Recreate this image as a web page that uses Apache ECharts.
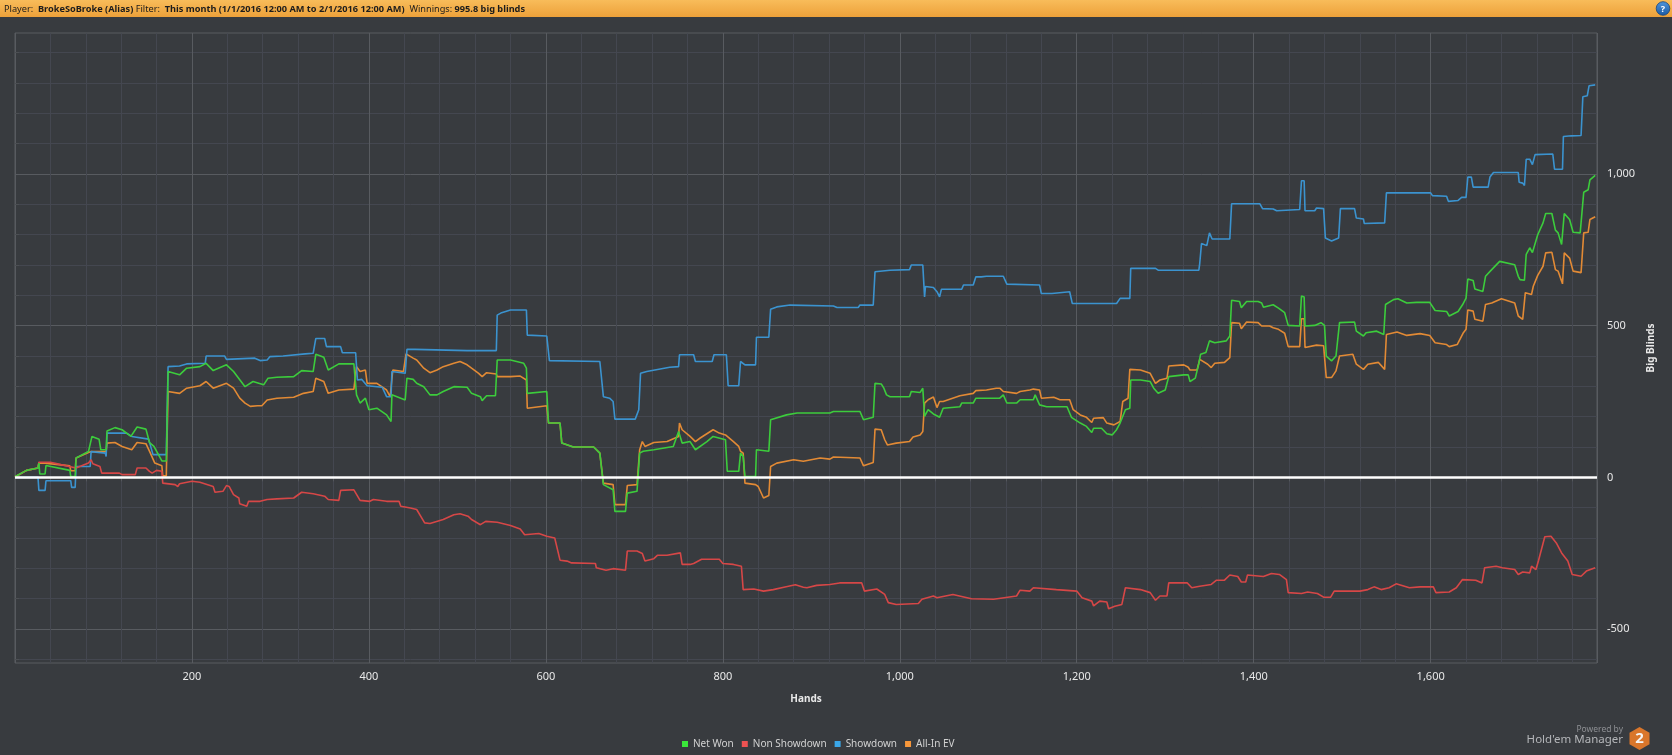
<!DOCTYPE html>
<html><head><meta charset="utf-8">
<script src="https://cdn.jsdelivr.net/npm/echarts@6/dist/echarts.min.js"></script>
<style>html,body{margin:0;padding:0;background:#383b3f;}#c{width:1672px;height:755px;}</style>
</head><body><div id="c"></div>
<script>
// ---- data (hand number, cumulative big blinds) ----
const netWonHands = [
0,13,26,27,28,34,35,62,63,68, 69,83,87,95,97,103,104,113,121,131, 138,148,152,157,166,171,173,186,194,209,
216,224,239,241,247,260,269,281,286,296, 315,324,337,340,349,354,366,383,386,390, 396,400,409,420,425,426,441,443,450,454,
462,469,477,484,496,511,516,526,528,533, 543,545,560,575,578,579,601,603,616,618, 631,654,661,665,676,678,690,692,703,706,
710,722,744,750,754,763,769,782,789,803, 805,818,820,823,825,837,838,852,854,872, 884,921,925,955,959,970,972,979,982,985,
989,1011,1013,1023,1026,1028,1032,1038,1045,1049, 1068,1070,1083,1086,1113,1117,1121,1132,1136,1151, 1153,1158,1166,1189,1194,1204,1211,1217,1219,1228,
1234,1240,1245,1249,1255,1260,1261,1272,1283,1287, 1292,1300,1304,1321,1326,1328,1334,1338,1340,1346, 1350,1356,1369,1373,1375,1384,1386,1392,1405,1409,
1411,1422,1428,1435,1439,1452,1454,1457,1458,1469, 1476,1480,1482,1488,1493,1497,1514,1516,1524,1527, 1539,1547,1549,1558,1563,1573,1584,1599,1605,1618,
1621,1631,1636,1640,1642,1648,1650,1659,1662,1669, 1678,1695,1699,1701,1706,1708,1712,1715,1721,1727, 1730,1737,1741,1744,1748,1749,1751,1757,1761,1769,
1773,1778,1780,1786];
const netWonBB = [
2,23,31,47,11,11,39,23,3,3, 64,85,135,126,91,91,153,164,157,135, 166,159,115,102,54,54,349,338,360,365,
376,352,371,376,349,299,316,305,327,330, 332,352,349,406,396,354,374,374,272,245, 261,223,228,206,184,272,255,327,323,310,
299,272,272,283,299,297,277,266,253,269, 269,387,387,376,360,277,283,179,179,113, 100,100,80,-24,-41,-112,-112,-52,-46,80,
86,91,102,151,113,118,91,118,135,124, 20,20,80,69,3,3,91,86,190,206, 212,212,217,217,190,198,310,308,294,272,
266,266,283,280,294,201,223,209,198,228, 233,245,245,261,261,272,245,245,256,256, 272,239,233,233,198,179,168,148,162,162,
144,140,157,179,223,228,321,321,316,294, 277,288,332,338,338,316,327,376,406,412, 450,444,450,466,584,580,559,580,580,575,
561,569,558,543,501,499,598,595,499,501, 510,501,400,384,400,510,512,482,466,477, 482,471,570,586,589,575,577,577,550,547,
532,547,569,591,654,649,621,613,663,685, 712,701,663,652,650,735,757,741,800,839, 870,870,815,806,768,764,870,850,808,806,
940,948,981,995.8];

const allInHands = [
0,13,26,27,34,35,62,63,68,69, 83,86,103,104,113,121,132,138,148,153, 158,166,167,171,173,186,194,209,216,224,
239,241,247,254,260,266,274,279,285,296, 315,326,337,340,349,354,366,383,386,390, 396,398,409,420,424,427,439,442,450,454,
462,469,477,484,496,503,511,516,524,528, 533,544,545,560,571,578,579,601,603,616, 618,631,654,661,665,676,678,690,692,703,
706,709,712,722,737,750,751,754,763,769, 774,789,796,803,812,818,820,823,825,837, 840,846,852,854,861,880,891,910,921,925,
955,959,970,972,979,983,986,996,1011,1015, 1023,1026,1028,1032,1038,1042,1045,1049,1068,1070, 1083,1086,1098,1109,1113,1117,1132,1136,1147,1151,
1158,1160,1174,1181,1192,1196,1204,1211,1217,1219, 1230,1234,1242,1249,1252,1258,1260,1272,1283,1289, 1294,1302,1304,1321,1326,1328,1336,1339,1348,1352,
1356,1367,1373,1375,1384,1386,1392,1405,1409,1418, 1422,1428,1435,1439,1452,1454,1457,1458,1471,1479, 1482,1488,1493,1497,1512,1516,1524,1529,1541,1548,
1550,1562,1573,1588,1599,1605,1618,1621,1630,1637, 1640,1642,1648,1650,1659,1662,1669,1680,1695,1699, 1704,1707,1714,1716,1721,1727,1730,1737,1741,1744,
1748,1749,1751,1757,1761,1770,1773,1778,1780,1786];
const allInBB = [
2,23,31,47,47,45,38,22,22,64, 82,85,85,113,115,102,91,115,111,80, 47,38,5,5,283,277,294,302,316,294,
310,316,294,261,245,234,236,236,255,261, 264,277,283,327,316,277,288,291,365,349, 354,310,310,288,266,354,349,407,393,387,
360,345,354,365,376,382,371,360,343,332, 345,341,332,332,334,321,228,236,179,179, 113,100,100,80,-19,-24,-90,-90,-27,-24,
91,118,102,115,118,135,179,157,135,118, 129,157,146,140,118,102,86,80,-19,-24, -30,-68,-60,36,47,58,53,64,60,67,
64,38,49,159,157,124,107,113,118,133, 140,151,245,256,265,230,250,250,269,272, 277,286,288,294,294,283,277,283,288,291,
288,261,264,256,256,223,206,198,181,195, 197,179,173,184,250,261,356,354,343,310, 321,327,367,371,363,354,354,389,373,362,
376,379,395,510,508,490,512,510,499,499, 493,488,475,431,431,523,523,428,436,434, 329,329,351,400,406,373,356,373,379,356,
471,479,468,474,468,444,438,431,438,477, 488,552,548,521,515,570,575,589,575,532, 521,609,603,630,666,696,740,742,685,680,
647,638,740,723,680,675,806,808,850,859];

const showdownHands = [
0,26,27,34,35,63,64,68,69,85, 86,102,103,104,126,132,151,156,171,173, 186,194,215,216,237,239,271,277,285,288,
303,328,337,340,350,352,368,370,385,387, 392,398,415,420,425,426,441,443,452,511, 544,545,550,560,578,579,601,604,661,665,
672,676,678,701,705,707,714,740,750,751, 767,769,788,790,804,806,818,820,825,837, 838,852,854,861,876,925,929,953,955,970,
972,989,1011,1013,1026,1028,1029,1038,1042,1045, 1047,1070,1072,1083,1086,1092,1094,1098,1117,1121, 1158,1160,1172,1174,1192,1195,1245,1249,1260,1261,
1289,1292,1338,1339,1341,1347,1350,1353,1373,1375, 1407,1410,1422,1426,1452,1454,1457,1458,1469,1471, 1479,1481,1488,1496,1498,1514,1516,1524,1525,1548,
1550,1600,1602,1618,1620,1631,1635,1640,1642,1646, 1648,1665,1667,1671,1699,1700,1704,1706,1708,1712, 1715,1718,1738,1740,1749,1750,1759,1770,1772,1777,
1779,1786];
const showdownBB = [
0,0,-43,-43,-11,-11,-33,-33,36,36, 85,80,69,146,146,135,126,75,75,365, 367,374,376,400,400,389,393,385,387,398,
400,407,409,458,458,431,431,411,411,321, 323,302,297,266,266,349,343,422,422,418, 418,535,543,552,552,469,466,385,382,266,
261,250,192,192,223,343,349,363,365,404, 404,382,382,404,404,302,302,382,371,371, 462,462,554,562,568,565,560,560,568,568,
678,683,685,700,700,595,629,626,612,595, 620,620,634,634,661,661,655,663,663,637, 634,606,606,612,612,573,573,590,590,689,
689,683,683,705,771,764,806,786,786,902, 902,886,885,879,883,978,978,879,879,888, 886,789,779,789,886,886,855,852,837,839,
938,938,929,927,910,913,923,923,990,990, 957,957,990,1005,1005,973,970,962,1049,1049, 1031,1064,1066,1016,1016,1124,1126,1127,1255,1258,
1291,1294];

const nonShowdownHands = [
0,13,26,27,40,52,69,83,86,88, 96,98,109,111,118,121,136,138,148,152, 155,160,166,167,181,184,186,200,209,224,
226,235,239,242,247,253,254,262,264,277, 285,296,315,324,337,350,354,366,368,383, 390,401,405,420,434,436,447,454,463,469,
484,496,503,512,516,526,532,545,560,571, 576,592,601,610,616,624,629,656,657,668, 676,690,692,703,709,712,722,726,737,752,
754,763,767,776,796,800,812,821,823,835, 846,857,869,882,891,895,906,921,932,957, 960,974,983,987,996,1021,1025,1038,1042,1060,
1081,1106,1132,1136,1147,1151,1177,1200,1206,1217, 1219,1226,1234,1236,1243,1251,1255,1272,1283,1289, 1294,1302,1304,1325,1330,1339,1352,1358,1367,1373,
1382,1386,1391,1393,1411,1420,1429,1437,1439,1454, 1461,1472,1479,1487,1491,1520,1529,1536,1544,1553, 1561,1576,1588,1603,1606,1621,1629,1636,1651,1658,
1661,1674,1681,1695,1699,1704,1712,1714,1719,1722, 1729,1736,1742,1748,1755,1760,1770,1776,1786];
const nonShowdownBB = [
0,23,31,50,50,42,31,47,58,45, 36,14,14,20,14,9,9,31,31,20, 14,23,20,-19,-24,-30,-21,-13,-16,-30,
-49,-46,-27,-30,-57,-68,-87,-95,-79,-79, -73,-71,-68,-49,-54,-62,-73,-76,-43,-41, -76,-79,-73,-79,-79,-95,-101,-106,-150,-152,
-139,-123,-120,-128,-139,-156,-145,-148,-159,-170, -189,-185,-194,-200,-273,-276,-282,-284,-298,-306, -301,-306,-243,-243,-251,-276,-268,-257,-257,-249,
-287,-287,-284,-270,-270,-284,-287,-293,-370,-368, -375,-370,-362,-354,-362,-364,-356,-353,-348,-348, -375,-368,-386,-413,-419,-416,-402,-391,-397,-386,
-400,-402,-391,-372,-375,-364,-370,-375,-397,-408, -424,-408,-411,-433,-425,-419,-364,-370,-380,-405, -391,-391,-348,-348,-364,-359,-353,-339,-339,-322,
-327,-345,-345,-322,-327,-317,-320,-337,-380,-383, -378,-383,-395,-395,-375,-375,-370,-361,-370,-364, -351,-364,-361,-361,-380,-378,-364,-337,-339,-348,
-298,-293,-298,-304,-320,-312,-315,-293,-304,-273, -196,-194,-216,-249,-276,-320,-326,-309,-298];

// axis ticks / labels
const handsMax = 1788;
const yMin = -612, yMax = 1465;
const yMinorTicks = [-600,-500,-400,-300,-200,-100,0,100,200,300,400,500,600,700,800,900,1000,1100,1200,1300,1400];
const yLabelTicks = [-500,0,500,1000];
const seriesNames = ['Net Won','Non Showdown','Showdown','All-In EV'];

const pairs = (h, v) => h.map((x, i) => [x, v[i]]);
const FONT = '"Noto Sans", "Open Sans", sans-serif';
const fmt = v => v.toLocaleString('en-US');

const chart = echarts.init(document.getElementById('c'), null, {renderer: 'canvas'});

function lineSeries(name, h, v, lineColor, iconColor, z, extra) {
  return Object.assign({
    name, type: 'line', data: pairs(h, v), xAxisIndex: 0, yAxisIndex: 0,
    showSymbol: false, symbol: 'none', z,
    lineStyle: {color: lineColor, width: 1.6},
    itemStyle: {color: iconColor},
    emphasis: {disabled: true}, animation: false
  }, extra || {});
}

const option = {
  backgroundColor: '#383b3f',
  animation: false,
  textStyle: {fontFamily: FONT},
  grid: {left: 15, top: 33, right: 75, bottom: 92, show: true, borderColor: '#595c60', borderWidth: 1, containLabel: false},
  legend: {
    data: seriesNames, top: 734, left: 677, icon: 'rect', itemWidth: 6, itemHeight: 6, itemGap: 8,
    textStyle: {color: '#d2d2d2', fontSize: 10, fontFamily: FONT}, selectedMode: false
  },
  xAxis: [
    {type: 'value', min: 0, max: handsMax, interval: 40, position: 'bottom',
     axisLine: {show: false}, axisTick: {show: true, length: 4, lineStyle: {color: '#55585c'}},
     axisLabel: {show: false}, splitLine: {show: true, lineStyle: {color: '#444750', width: 1}}},
    {type: 'value', min: 0, max: handsMax, interval: 200, position: 'bottom',
     axisLine: {show: false}, axisTick: {show: false},
     axisLabel: {color: '#e8e8e8', fontSize: 11, margin: 8, fontFamily: FONT,
                 formatter: v => (v > 0 && v % 200 === 0) ? fmt(v) : ''},
     splitLine: {show: true, lineStyle: {color: '#585b60', width: 1}},
     name: 'Hands', nameLocation: 'middle', nameGap: 31,
     nameTextStyle: {color: '#e8e8e8', fontWeight: 'bold', fontSize: 10, fontFamily: FONT}}
  ],
  yAxis: [
    {type: 'value', min: yMin, max: yMax, position: 'right',
     axisLine: {show: false},
     axisTick: {show: true, length: 4, customValues: yMinorTicks, lineStyle: {color: '#4c4f53'}},
     axisLabel: {show: false},
     splitLine: {show: true, lineStyle: {color: '#444750', width: 1}}},
    {type: 'value', min: yMin, max: yMax, position: 'right',
     axisLine: {show: false},
     axisTick: {show: true, length: 8, customValues: yLabelTicks, lineStyle: {color: '#585b60'}},
     axisLabel: {customValues: yLabelTicks, color: '#e8e8e8', fontSize: 11, margin: 10, fontFamily: FONT, formatter: v => fmt(v)},
     splitLine: {show: true, lineStyle: {color: '#585b60', width: 1}},
     name: 'Big Blinds', nameLocation: 'middle', nameRotate: 90, nameGap: 46,
     nameTextStyle: {color: '#e8e8e8', fontWeight: 'bold', fontSize: 10, fontFamily: FONT}}
  ],
  series: [
    lineSeries('All-In EV', allInHands, allInBB, '#e28a35', '#f7973a', 2),
    lineSeries('Showdown', showdownHands, showdownBB, '#3b93cf', '#3aa6e8', 2),
    lineSeries('Non Showdown', nonShowdownHands, nonShowdownBB, '#d64747', '#ee5252', 2),
    lineSeries('Net Won', netWonHands, netWonBB, '#3ccc3c', '#3ae83a', 3, {
      markLine: {silent: true, symbol: 'none', animation: false, z: 6,
                 label: {show: false}, emphasis: {disabled: true},
                 lineStyle: {color: '#ffffff', width: 2.5, type: 'solid'},
                 data: [{yAxis: 0}]}
    })
  ],
  graphic: [
    {type: 'rect', x: 0, y: 0, shape: {width: 1672, height: 17}, silent: true, z: 100,
     style: {fill: new echarts.graphic.LinearGradient(0, 0, 0, 1, [{offset: 0, color: '#f8bc5a'}, {offset: 1, color: '#eda13a'}])}},
    {type: 'text', x: 4, y: 9, silent: true, z: 101,
     style: {text: '{n|Player:}  {b|BrokeSoBroke (Alias)} {n|Filter:}  {b|This month (1/1/2016 12:00 AM to 2/1/2016 12:00 AM)}  {n|Winnings:} {b|995.8 big blinds}',
             verticalAlign: 'middle', fill: '#1c1c1c', font: '9.2px ' + FONT,
             rich: {n: {fill: '#1c1c1c', fontSize: 9.2, fontFamily: FONT},
                    b: {fill: '#1c1c1c', fontSize: 9.2, fontFamily: FONT, fontWeight: 'bold'}}}},
    {type: 'circle', shape: {cx: 1663, cy: 8.5, r: 6.8}, silent: true, z: 101,
     style: {fill: new echarts.graphic.LinearGradient(0, 0, 0, 1, [{offset: 0, color: '#4f95dc'}, {offset: 1, color: '#1b5aa3'}]), stroke: '#18457a', lineWidth: 0.8}},
    {type: 'text', x: 1663, y: 9, silent: true, z: 102,
     style: {text: '?', fill: '#ffffff', font: 'bold 9px ' + FONT, align: 'center', verticalAlign: 'middle'}},
    {type: 'text', x: 1623, y: 729.5, silent: true,
     style: {text: 'Powered by', fill: '#8e9094', font: '8.5px ' + FONT, align: 'right', verticalAlign: 'middle'}},
    {type: 'text', x: 1623, y: 740, silent: true,
     style: {text: "Hold'em Manager", fill: '#b4b6b9', font: '11.5px ' + FONT, align: 'right', verticalAlign: 'middle'}},
    {type: 'polygon', silent: true,
     shape: {points: [[1639.5, 727], [1649.5, 732.8], [1649.5, 744.2], [1639.5, 750], [1629.5, 744.2], [1629.5, 732.8]]},
     style: {fill: '#d9762b'}},
    {type: 'text', x: 1639.5, y: 739, silent: true,
     style: {text: '2', fill: '#f4f4f4', font: 'bold 15px ' + FONT, align: 'center', verticalAlign: 'middle'}}
  ]
};
chart.setOption(option);
</script>
</body></html>
